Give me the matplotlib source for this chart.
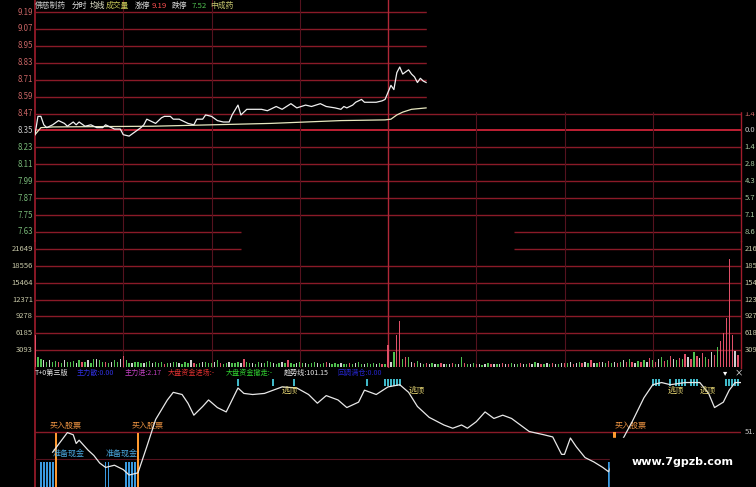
import matplotlib.pyplot as plt
from matplotlib.patches import Rectangle

plt.rcParams['font.family'] = ['Noto Sans CJK SC', 'DejaVu Sans']

W, H = 756, 487

# --- price panel data ---
price_ticks = [9.19, 9.07, 8.95, 8.83, 8.71, 8.59, 8.47, 8.35,
               8.23, 8.11, 7.99, 7.87, 7.75, 7.63]
pct_labels = ['1.4', '0.0', '1.4', '2.8', '4.3', '5.7', '7.1', '8.6']
prev_close = 8.35

price_min = [0, 1, 2, 3, 4, 6, 8, 10, 11, 13, 14, 15, 17, 19, 21, 23, 24, 27, 29,
             30, 32, 34, 36, 37, 38, 40, 41, 43, 44, 46, 47, 49, 50, 52, 54, 55,
             57, 58, 60, 62, 64, 66, 67, 69, 70, 72, 74, 77, 79, 82, 84, 87, 89,
             92, 94, 97, 99, 102, 104, 105, 106, 108, 109, 110, 111, 112, 114,
             116, 118, 119, 120, 121, 122, 123, 124, 125, 127, 128, 129, 130,
             131, 132, 133]
price_val = [8.32, 8.45, 8.45, 8.39, 8.37, 8.39, 8.42, 8.40, 8.38, 8.41, 8.39,
             8.41, 8.38, 8.39, 8.37, 8.37, 8.39, 8.36, 8.36, 8.32, 8.31, 8.34,
             8.37, 8.39, 8.43, 8.41, 8.40, 8.44, 8.45, 8.45, 8.43, 8.43, 8.42,
             8.40, 8.39, 8.43, 8.43, 8.46, 8.45, 8.42, 8.41, 8.41, 8.46, 8.53,
             8.46, 8.50, 8.50, 8.50, 8.49, 8.52, 8.50, 8.54, 8.51, 8.53, 8.52,
             8.54, 8.52, 8.51, 8.50, 8.52, 8.51, 8.53, 8.55, 8.56, 8.57, 8.55,
             8.55, 8.55, 8.56, 8.57, 8.62, 8.67, 8.64, 8.76, 8.80, 8.75, 8.78,
             8.75, 8.73, 8.69, 8.72, 8.70, 8.69]

avg_min = [0, 2, 6, 40, 80, 104, 119, 121, 123, 125, 128, 133]
avg_val = [8.32, 8.37, 8.375, 8.38, 8.40, 8.42, 8.425, 8.43, 8.46, 8.48, 8.50, 8.51]

# --- volume panel data ---
vol_ticks = [21649, 18556, 15464, 12371, 9278, 6185, 3093]
volume = [
    5900, 1800, 1500, 1300, 1000, 1200, 900, 1100, 1000, 800, 1200, 1000, 900, 1100, 700, 1200, 1000, 900, 1300, 800,
    1500, 1400, 1200, 900, 1000, 800, 1000, 1200, 900, 1400, 2000, 1200, 800, 700, 900, 1000, 800, 700, 900, 1100,
    800, 1000, 700, 900, 600, 800, 700, 900, 1000, 800, 600, 900, 700, 1200, 800, 600, 700, 900, 1000, 800,
    700, 900, 1300, 800, 600, 700, 900, 800, 700, 1000, 800, 1400, 900, 700, 800, 600, 900, 700, 800, 1100,
    900, 700, 600, 800, 900, 700, 1200, 800, 600, 700, 900, 800, 700, 600, 800, 1000, 700, 600, 800, 900,
    700, 600, 800, 500, 700, 600, 500, 800, 600, 700, 900, 600, 500, 700, 600, 800, 600, 700, 500, 600,
    4000, 1000, 2700, 5800, 8400, 1500, 1900, 1800, 1000, 800, 1100, 700, 600, 800, 500, 700, 600, 500, 700, 600,
    500, 600, 700, 500, 600, 1800, 700, 500, 600, 700, 500, 600, 400, 500, 700, 600, 500, 600, 500, 700,
    600, 500, 700, 600, 500, 800, 600, 500, 700, 600, 900, 700, 600, 500, 800, 600, 700, 500, 600, 700,
    800, 700, 900, 600, 700, 1000, 800, 900, 700, 1200, 800, 700, 1000, 900, 800, 1100, 700, 900, 800, 1000,
    1200, 900, 1500, 1000, 800, 1100, 900, 1300, 1000, 1600, 1200, 900, 1400, 1800, 1100, 1300, 2000, 1500, 1200, 1700,
    1400, 2300, 1800, 1500, 2800, 2000, 1600, 2500, 1900, 1400, 2700, 2200, 3600, 4800, 6200, 8900, 19800, 5800, 3000, 2200,
]
vol_dir = ("rggwgwggrgwgggwgrgwg" "gwggrgwggwrggwgggwgg" "wgggrgwggwgggwrggwgg"
           "gwgrggwgggwrggwggwgg" "gwggwgrggwggwgggwggr" "wgggwggrgwggwgggwgrg"
           "rwgrrgrgwrgwgrwgwgrw" "gwrgwgrgwgrwgwgrwgwr" "wrgwgrwgrwgwrgwgrwgw"
           "rgwrwgrwgrwgrwgrgwrg" "wrgrwgrgwrgrwgrgrwgr" "grwrgrwrgrwrgrrrrrwr")
dir_color = {'r': '#e05068', 'g': '#4fc04f', 'w': '#d0d0d0'}

# --- indicator panel data ---
trend_min = [6, 11, 13, 14, 15, 18, 20, 22, 24, 27, 30, 32, 35, 38, 41, 45, 47, 50,
             52, 54, 57, 59, 62, 65, 67, 69, 71, 74, 78, 81, 84, 89, 93, 96, 99,
             103, 106, 110, 112, 116, 120, 124, 127, 130, 134, 139, 142, 145, 147,
             150, 153, 156, 159, 162, 165, 168, 173, 176, 179, 180, 182, 184, 187,
             190, 193, 195, 200, 203, 207, 210, 213, 216, 221, 226, 229, 231, 234,
             236, 238, 240]
trend_val = [32, 50, 48, 40, 43, 34, 29, 22, 18, 20, 16, 11, 13, 37, 62, 80, 87, 85,
             77, 66, 74, 80, 73, 69, 80, 91, 86, 85, 86, 89, 92, 91, 85, 77, 84,
             80, 73, 78, 89, 85, 92, 94, 87, 74, 64, 57, 54, 57, 54, 60, 69, 63,
             66, 63, 57, 51, 48, 46, 30, 30, 45, 37, 27, 23, 18, 14, 45, 60, 82,
             94, 96, 94, 96, 96, 86, 73, 78, 89, 96, 96]
cash_bars = [2, 3, 4, 5, 6, 24, 25, 31, 32, 33, 34, 195]
buy_bars = [7, 35]
top_marks = [69, 81, 88, 113, 119, 120, 121, 122, 123, 124, 210, 211, 212, 216,
             218, 219, 220, 221, 223, 224, 225, 235, 236, 237, 238, 239]
buy_text_min = [5, 33, 197]
cash_text_min = [6, 24]
top_text_min = [84, 127, 215, 226]

grid_c = '#8a1a28'
dim_c = '#55121e'

fig = plt.figure(figsize=(W / 100, H / 100), dpi=100, facecolor='black')


def panel(top, bottom):
    a = fig.add_axes([35 / W, 1 - bottom / H, 706 / W, (bottom - top) / H])
    a.set_facecolor('black')
    a.set_xlim(0, 240)
    a.axis('off')
    a.axvline(0, color='#a01c2c', lw=1.2, clip_on=False)
    return a


def ftext(x, y, s, **kw):
    fig.text(x / W, 1 - y / H, s, va='center', **kw)


# price panel
ax1 = panel(0, 241)
k = 0.12 / 16.92
ax1.set_ylim(7.63 - 9 * k, 9.19 + 12 * k)
for p in price_ticks:
    if p == 7.63:
        ax1.hlines(p, 0, 70, color=grid_c, lw=1)
        ax1.hlines(p, 163, 240, color=grid_c, lw=1)
    elif p == prev_close:
        ax1.axhline(p, color='#c02034', lw=1.4)
    else:
        ax1.axhline(p, color=grid_c, lw=1)
for m in [30, 60, 90, 150, 180, 210]:
    ax1.axvline(m, color=dim_c, lw=0.8)
ax1.axvline(120, color='#b02838', lw=1)
ax1.axvline(240, color='#a01c2c', lw=1, clip_on=False)
ax1.plot(avg_min, avg_val, color='#e8e8c0', lw=0.9)
ax1.plot(price_min, price_val, color='#f0f0f0', lw=0.9)
for p in price_ticks:
    c = '#c86464' if p > prev_close else ('#c8c8c8' if p == prev_close else '#78b878')
    ax1.text(-0.7, p, f'{p:.2f}', color=c, fontsize=5.7, ha='right', va='center',
             clip_on=False)
for p, s in zip(price_ticks[6:], pct_labels):
    c = '#c86464' if p > prev_close else ('#c8c8c8' if p == prev_close else '#a8c8a0')
    ax1.text(241.2, p, s, color=c, fontsize=5.5, ha='left', va='center', clip_on=False)

# volume panel
ax2 = panel(241, 368)
vk = 3093 / 16.86
ax2.set_ylim(-vk, 21649 + 8 * vk)
ax2.hlines(vol_ticks[0], 0, 70, color=grid_c, lw=1)
ax2.hlines(vol_ticks[0], 163, 240, color=grid_c, lw=1)
for v in vol_ticks[1:]:
    ax2.axhline(v, color=grid_c, lw=1)
for m in [30, 60, 90, 150, 180, 210]:
    ax2.axvline(m, color=dim_c, lw=0.8)
ax2.axvline(120, color='#b02838', lw=1)
ax2.axvline(240, color='#a01c2c', lw=1, clip_on=False)
ax2.bar(range(len(volume)), volume, width=0.45,
        color=[dir_color[d] for d in vol_dir], zorder=3)
for v in vol_ticks:
    ax2.text(-0.7, v, str(v), color='#c8c8a8', fontsize=5.5, ha='right', va='center',
             clip_on=False)
    # right-hand copies run off the screenshot edge, as in the original
    ax2.text(241.2, v, str(v), color='#c8c8a8', fontsize=5.5, ha='left', va='center',
             clip_on=False)

# indicator panel
ax3 = panel(368, 487)
ax3.set_ylim(0, 119 * 0.919)
ax3.axhline(51, color=grid_c, lw=1)
ax3.axhline(26, color=dim_c, lw=0.8)
ax3.bar(cash_bars, [23] * len(cash_bars), width=0.6, color='#3a9ae0', zorder=3)
ax3.bar(buy_bars, [50] * len(buy_bars), width=0.7, color='#ff9a30', zorder=3)
ax3.bar([197], [8], bottom=43, width=0.7, color='#ff9a30', zorder=3)
ax3.bar(top_marks, [6] * len(top_marks), bottom=93, width=0.7, color='#40b8c8', zorder=3)
ax3.plot(trend_min, trend_val, color='#e8e8e8', lw=0.9, zorder=4)
for m in buy_text_min:
    ax3.text(m, 57, '买入股票', color='#e89040', fontsize=5.8, ha='left', va='center')
for m in cash_text_min:
    ax3.text(m, 31, '准备现金', color='#4aa8e0', fontsize=5.8, ha='left', va='center')
for m in top_text_min:
    ax3.text(m, 89, '逃顶', color='#e0d070', fontsize=5.8, ha='left', va='center', zorder=5)
ax3.text(241.2, 51, '51.', color='#c8c8c8', fontsize=5.5, ha='left', va='center',
         clip_on=False)

# header lines
for x, s, c in [(35, '佛慈制药', '#c8c8c8'), (72, '分时', '#e8e8e8'), (90, '均线', '#e8e8d0'),
                (106, '成交量', '#c8c858'), (135, '涨停', '#e0e0e0'), (152, '9.19', '#ff5050'),
                (172, '跌停', '#e0e0e0'), (192, '7.52', '#50c050'), (210, '中成药', '#c8c870')]:
    ftext(x, 6, s, color=c, fontsize=5.6)
for x, s, c in [(35, 'T+0第三版', '#e8e8e8'), (77, '主力散:0.00', '#3030e0'),
                (125, '主力进:2.17', '#c040c0'), (168, '大盘资金进场:-', '#e03030'),
                (226, '大盘资金撤走:-', '#30d030'), (284, '趋势线:101.15', '#e8e8e8'),
                (337, '回调满仓:0.00', '#2424c8')]:
    ftext(x, 373, s, color=c, fontsize=5.1)
ftext(723, 373, '▾', color='white', fontsize=6)
ftext(735, 373, '×', color='white', fontsize=6)

# pasted-over areas of the screenshot
fig.add_artist(Rectangle((427 / W, 1 - 111 / H), (W - 427) / W, 111 / H,
                         transform=fig.transFigure, color='black', zorder=10))
fig.add_artist(Rectangle((610 / W, 0), (W - 610) / W, (487 - 438) / H,
                         transform=fig.transFigure, color='black', zorder=10))
fig.text(683 / W, 1 - 462 / H, 'www.7gpzb.com', color='white', fontsize=8,
         fontweight='bold', family='DejaVu Sans', ha='center', va='center', zorder=11)

fig.savefig('out.png', dpi=100, facecolor='black')
